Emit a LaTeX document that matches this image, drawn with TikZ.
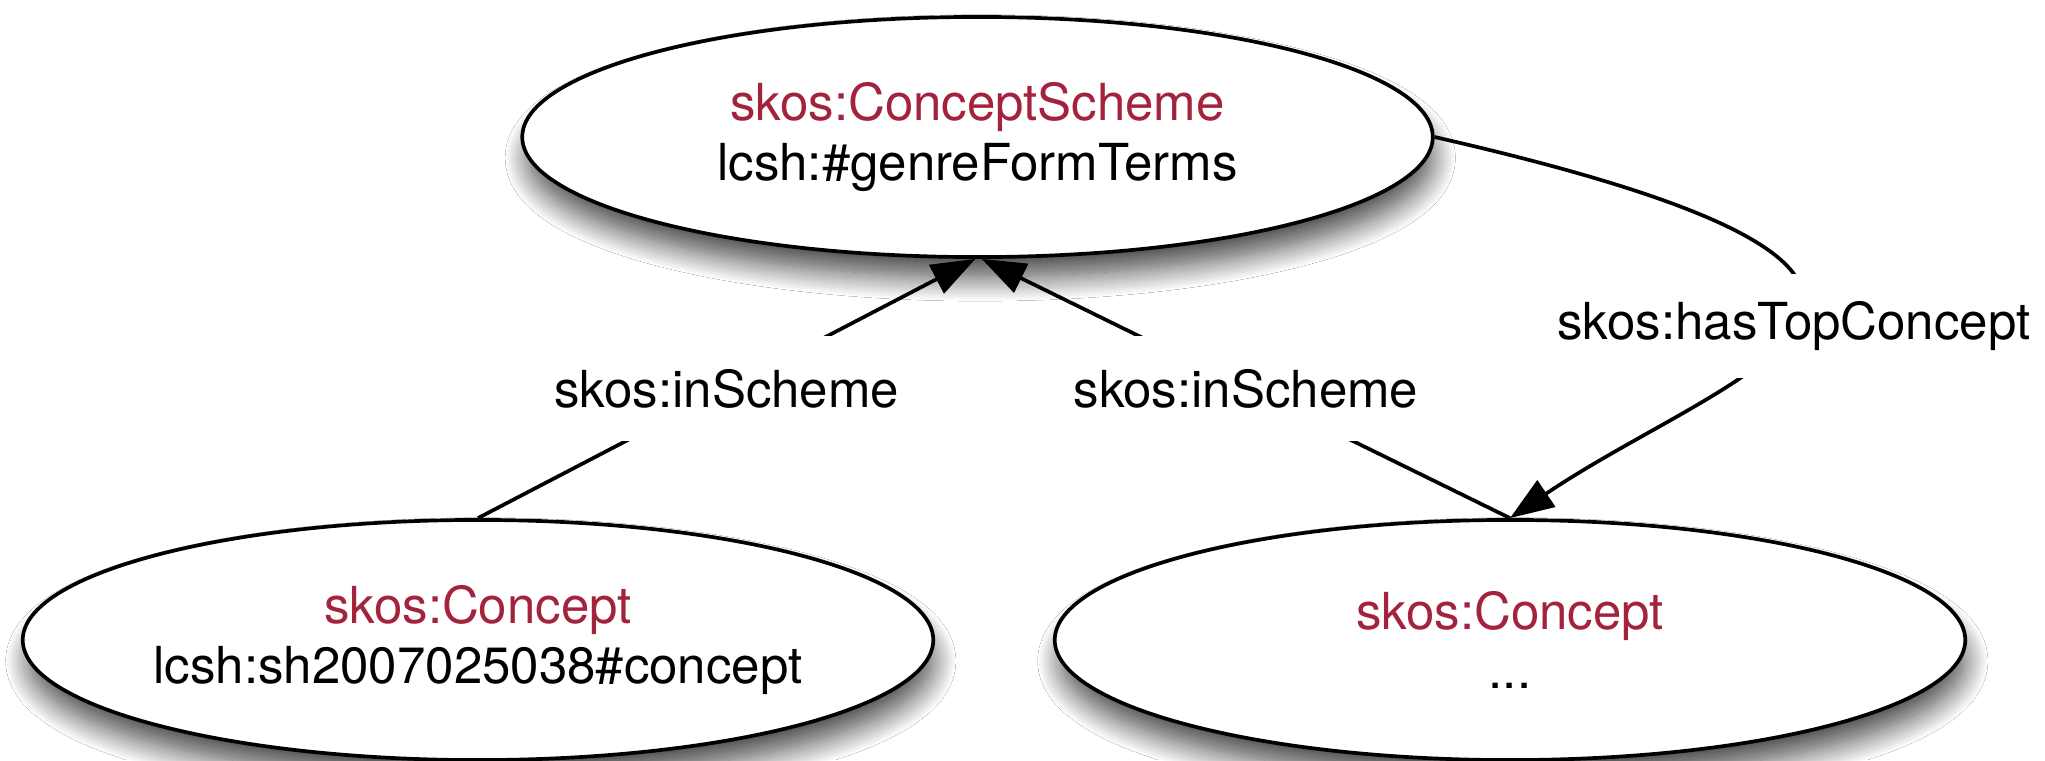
\documentclass[tikz,border=0pt]{standalone}
\usepackage{fontspec}
\setmainfont{TeX Gyre Heros}
\usetikzlibrary{shapes.geometric, arrows.meta, shadows.blur}
\definecolor{skosred}{RGB}{163,35,60}
\begin{document}
\begin{tikzpicture}[x=0.01cm, y=-0.01cm,
  concept/.style={ellipse, draw=black, fill=white, line width=1.05pt,
    minimum width=9.1cm, minimum height=2.4cm, inner sep=0pt,
    blur shadow={shadow xshift=0.8pt, shadow yshift=-6pt, shadow scale=0.99,
      shadow blur radius=7pt, shadow blur steps=25, shadow opacity=75}},
  ctext/.style={align=center, font=\fontsize{14.5}{17}\selectfont, inner sep=0pt},
  rel/.style={line width=1.05pt},
  arrowend/.style={-{Triangle[length=12.5pt, width=9pt]}},
  elabel/.style={fill=white, font=\fontsize{14.5}{17}\selectfont, inner xsep=2pt, minimum height=1.04cm}
]
\fill[white] (0,0) rectangle (2045,760);
\useasboundingbox (0,0) rectangle (2045,760);

\node[concept] (cs) at (977.5,137) {};
\node[ctext] (cs-t) at (cs.center) {\textcolor{skosred}{skos:ConceptScheme}\\lcsh:\#genreFormTerms};

\node[concept] (c1) at (478,640) {};
\node[ctext] (c1-t) at (c1.center) {\textcolor{skosred}{skos:Concept}\\lcsh:sh2007025038\#concept};

\node[concept] (c2) at (1510,640) {};
\node[ctext] (c2-t) at (c2.center) {\textcolor{skosred}{skos:Concept}\\...};

\draw[rel, arrowend] (c1.north) -- node[elabel] (l1) {skos:inScheme} (cs.-91);
\draw[rel, arrowend] (c2.north) -- node[elabel] (l2) {skos:inScheme} (cs.-88);
\draw[rel, arrowend] (cs.east) .. controls (2070,282) and (1732,368) .. (c2.north)
  node[elabel, pos=0.5] (l3) {skos:hasTopConcept};
\end{tikzpicture}
\end{document}
